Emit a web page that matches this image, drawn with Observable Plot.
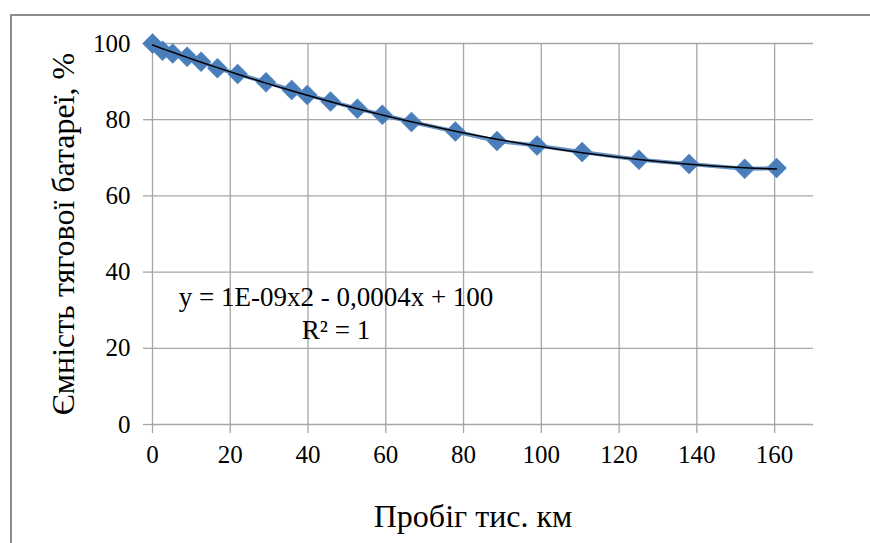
<!DOCTYPE html>
<html><head><meta charset="utf-8">
<script src="https://cdn.jsdelivr.net/npm/d3@7"></script>
<script src="https://cdn.jsdelivr.net/npm/@observablehq/plot@0.6"></script>
<style>
html,body{margin:0;padding:0;background:#fff;}
#wrap{position:relative;width:870px;height:543px;overflow:hidden;}
#frame{position:absolute;left:10px;top:14px;width:900px;height:600px;border-left:2px solid #8c8c8c;border-top:2px solid #8c8c8c;pointer-events:none;}
svg text{font-family:"Liberation Serif","Times New Roman",serif !important;}
</style></head><body>
<div id="wrap"><div id="frame"></div></div>
<script>
// Mileage, thousand km
const mileage = [0, 2.6, 5.2, 8.9, 12.5, 16.7, 21.9, 29.2, 35.8, 39.8, 45.8, 52.7, 59.1, 66.6, 77.9, 88.6, 98.9, 110.5, 125.1, 138.0, 152.3, 160.5];
// Traction battery capacity, %
const capacity = [100, 98.1, 97.4, 96.5, 95.2, 93.5, 92.0, 89.8, 87.8, 86.5, 84.8, 82.9, 81.3, 79.4, 76.9, 74.4, 73.2, 71.5, 69.5, 68.4, 67.1, 67.3];
const xTicks = [0, 20, 40, 60, 80, 100, 120, 140, 160];
const yTicks = [0, 20, 40, 60, 80, 100];
const xLabel = "Пробіг тис. км";
const yLabel = "Ємність тягової батареї, %";
const equationLines = ["y = 1E-09x2 - 0,0004x + 100", "R² = 1"];

// quadratic least-squares trendline fitted to the data
function quadFit(xs, ys) {
  let S = [0,0,0,0,0], T = [0,0,0];
  xs.forEach((x, i) => {
    const y = ys[i];
    for (let k = 0; k < 5; k++) S[k] += Math.pow(x, k);
    for (let k = 0; k < 3; k++) T[k] += y * Math.pow(x, k);
  });
  const A = [[S[0],S[1],S[2],T[0]],[S[1],S[2],S[3],T[1]],[S[2],S[3],S[4],T[2]]];
  for (let c = 0; c < 3; c++) {
    for (let r = c + 1; r < 3; r++) {
      const f = A[r][c] / A[c][c];
      for (let k = c; k < 4; k++) A[r][k] -= f * A[c][k];
    }
  }
  const b = [0,0,0];
  for (let r = 2; r >= 0; r--) {
    let s = A[r][3];
    for (let k = r + 1; k < 3; k++) s -= A[r][k] * b[k];
    b[r] = s / A[r][r];
  }
  return x => b[0] + b[1] * x + b[2] * x * x;
}

const data = mileage.map((m, i) => ({m, c: capacity[i]}));
const f = quadFit(mileage, capacity);
const trend = mileage.map(m => ({m, c: f(m)}));

const grid = "#a6a6a6";
const blue = "#4a7ebb";
const serif = "'Liberation Serif', 'Times New Roman', serif";

const chart = Plot.plot({
  width: 870, height: 543,
  marginLeft: 152, marginRight: 57, marginTop: 43, marginBottom: 119,
  style: {fontFamily: serif, fontSize: "25px", color: "#000", background: "transparent"},
  x: {domain: [0, 170], label: null},
  y: {domain: [0, 100], label: null},
  marks: [
    Plot.ruleY(yTicks, {stroke: grid, strokeWidth: 1.3}),
    Plot.ruleX(xTicks, {stroke: grid, strokeWidth: 1.3}),
    Plot.axisX({ticks: xTicks, text: null, tickSize: 9, stroke: grid, strokeWidth: 1.3}),
    Plot.axisX({ticks: xTicks, tickSize: 0, tickPadding: 21, fontSize: 25, fontFamily: serif, tickFormat: d => String(d)}),
    Plot.axisY({ticks: yTicks, text: null, tickSize: 9, stroke: grid, strokeWidth: 1.3}),
    Plot.axisY({ticks: yTicks, tickSize: 0, tickPadding: 22, fontSize: 25, fontFamily: serif, tickFormat: d => String(d)}),
    Plot.line(data, {x: "m", y: "c", stroke: blue, strokeWidth: 4, strokeOpacity: 0.85}),
    Plot.dot(data, {x: "m", y: "c", symbol: "diamond2", r: 9, fill: blue, stroke: blue, strokeWidth: 0.5}),
    Plot.line(trend, {x: "m", y: "c", curve: "natural", stroke: "#000", strokeWidth: 1.5}),
    Plot.text([equationLines.join("\n")], {x: 47.2, y: 29.5, lineHeight: 1.2, fontSize: 27, fontFamily: serif, lineAnchor: "middle"}),
    Plot.text([yLabel], {frameAnchor: "left", dx: -89, rotate: -90, fontSize: 32, fontFamily: serif, textAnchor: "middle", lineAnchor: "middle"}),
    Plot.text([xLabel], {frameAnchor: "bottom", dx: -10, dy: 92, fontSize: 32, fontFamily: serif, textAnchor: "middle", lineAnchor: "middle"})
  ]
});
document.getElementById("wrap").insertBefore(chart, document.getElementById("frame"));
</script>
</body></html>
